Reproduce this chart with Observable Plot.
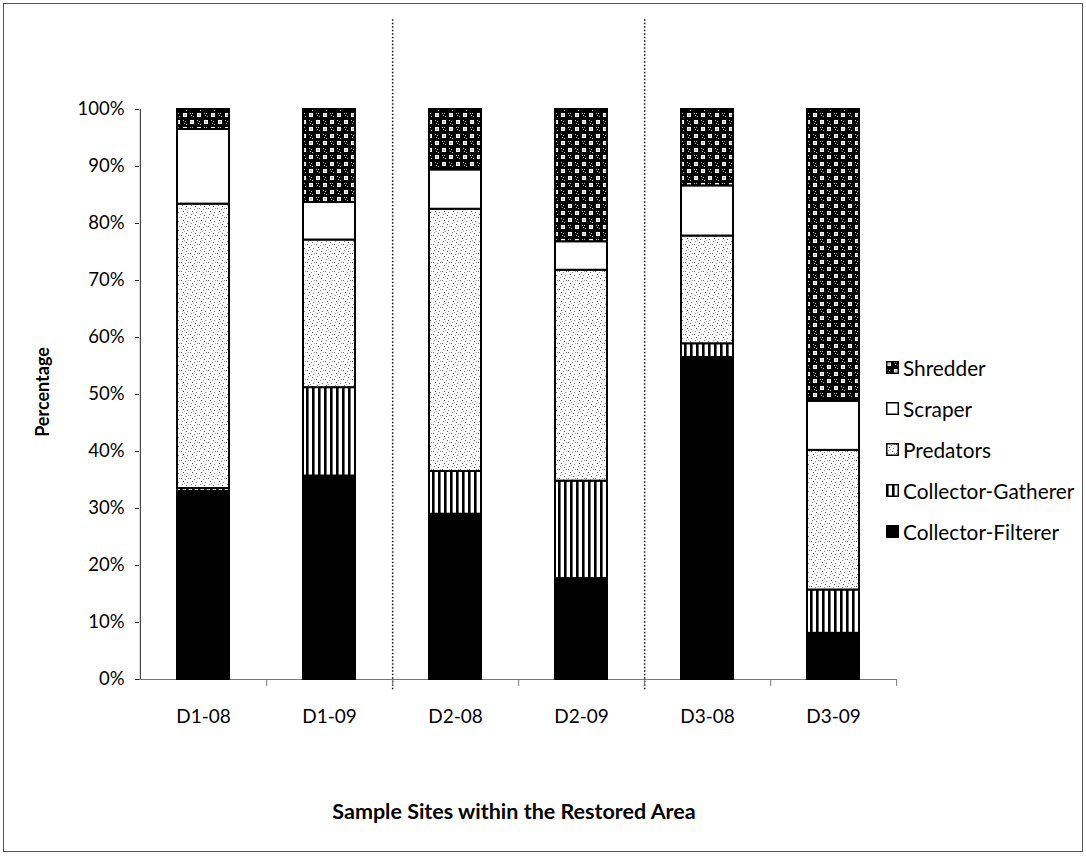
<!DOCTYPE html>
<html>
<head>
<meta charset="utf-8">
<script src="https://cdn.jsdelivr.net/npm/d3@7"></script>
<script src="https://cdn.jsdelivr.net/npm/@observablehq/plot@0.6"></script>
<style>
  body { margin: 0; background: #fff; font-family: Lato, "Open Sans", sans-serif; color: #000; }
  #chart { position: relative; width: 1086px; height: 857px; overflow: hidden; background: #fff; }
  #chart > svg.plot { position: absolute; left: 0; top: 0; }
  #border { position: absolute; left: 3px; top: 3px; width: 1080px; height: 849px; border: 1px solid #555; box-sizing: border-box; }
  #ytitle { position: absolute; left: 42px; top: 392px; transform: translate(-50%, -50%) rotate(-90deg); font-weight: bold; font-size: 18px; white-space: nowrap; }
  #xtitle { position: absolute; left: 514px; top: 811px; transform: translate(-50%, -50%); font-weight: bold; font-size: 21.5px; white-space: nowrap; }
  #legend { position: absolute; left: 886px; top: 347px; font-size: 20.8px; }
  #legend .item { display: flex; align-items: center; height: 41px; white-space: nowrap; }
  #legend .item svg { margin-right: 4px; flex: none; }
</style>
</head>
<body>
<!-- fill patterns shared by the bars and the legend swatches -->
<svg width="0" height="0" style="position:absolute">
  <defs>
    <pattern id="pat-cf" width="4" height="4" patternUnits="userSpaceOnUse">
      <rect width="4" height="4" fill="#000"/>
    </pattern>
    <pattern id="pat-cg" width="6" height="6" patternUnits="userSpaceOnUse">
      <rect width="6" height="6" fill="#fff"/>
      <rect x="0" y="0" width="2.6" height="6" fill="#000"/>
    </pattern>
    <pattern id="pat-pred" width="9" height="9" patternUnits="userSpaceOnUse">
      <rect width="9" height="9" fill="#fff"/>
      <rect x="1" y="1" width="1" height="1" fill="#666"/>
      <rect x="5" y="2" width="1" height="1" fill="#888"/>
      <rect x="3" y="4" width="1" height="1" fill="#444"/>
      <rect x="7" y="5" width="1" height="1" fill="#777"/>
      <rect x="2" y="7" width="1" height="1" fill="#888"/>
      <rect x="6" y="8" width="1" height="1" fill="#555"/>
      <rect x="8" y="1" width="1" height="1" fill="#999"/>
      <rect x="4" y="6" width="1" height="1" fill="#aaa"/>
    </pattern>
    <pattern id="pat-scr" width="4" height="4" patternUnits="userSpaceOnUse">
      <rect width="4" height="4" fill="#fff"/>
    </pattern>
    <pattern id="pat-shr" width="14" height="14" patternUnits="userSpaceOnUse">
      <rect width="14" height="14" fill="#000"/>
      <rect x="1" y="1" width="4" height="4" fill="#fff"/>
      <rect x="2.5" y="2.5" width="1" height="1" fill="#000"/>
      <rect x="8" y="8" width="4" height="4" fill="#fff"/>
      <rect x="9.5" y="9.5" width="1" height="1" fill="#000"/>
      <rect x="8" y="1" width="1" height="1" fill="#bbb"/>
      <rect x="10" y="1" width="1" height="1" fill="#bbb"/>
      <rect x="9" y="3" width="1" height="1" fill="#bbb"/>
      <rect x="11" y="4" width="1" height="1" fill="#bbb"/>
      <rect x="1" y="8" width="1" height="1" fill="#bbb"/>
      <rect x="3" y="9" width="1" height="1" fill="#bbb"/>
      <rect x="2" y="11" width="1" height="1" fill="#bbb"/>
      <rect x="4" y="12" width="1" height="1" fill="#bbb"/>
    </pattern>
  </defs>
</svg>

<div id="chart">
  <div id="border"></div>
  <div id="ytitle">Percentage</div>
  <div id="xtitle">Sample Sites within the Restored Area</div>
  <div id="legend"></div>
</div>

<script>
// Sample sites (x categories) and feeding groups (stacked bottom to top)
const sites = ["D1-08", "D1-09", "D2-08", "D2-09", "D3-08", "D3-09"];
const groups = ["Collector-Filterer", "Collector-Gatherer", "Predators", "Scraper", "Shredder"];

// Percent composition per site, one array per feeding group
const collectorFilterer = [33.0, 35.7, 29.0, 17.7, 56.5, 8.1];
const collectorGatherer = [0.5, 15.5, 7.5, 17.1, 2.4, 7.6];
const predators         = [49.9, 25.9, 46.0, 37.0, 18.9, 24.5];
const scraper           = [13.1, 6.6, 6.9, 5.0, 8.8, 8.6];
const shredder          = [3.5, 16.3, 10.6, 23.2, 13.4, 51.2];

// Y axis ticks
const yTicks = [0, 10, 20, 30, 40, 50, 60, 70, 80, 90, 100];

const series = [collectorFilterer, collectorGatherer, predators, scraper, shredder];
const patternOf = {
  "Collector-Filterer": "url(#pat-cf)",
  "Collector-Gatherer": "url(#pat-cg)",
  "Predators": "url(#pat-pred)",
  "Scraper": "url(#pat-scr)",
  "Shredder": "url(#pat-shr)"
};

const table = sites.flatMap((site, i) =>
  groups.map((group, j) => ({site, group, value: series[j][i]}))
);

const width = 1086, height = 857;
const marginLeft = 139, marginRight = 189, marginTop = 109, marginBottom = 178;
const step = (width - marginLeft - marginRight) / sites.length;

const chart = Plot.plot({
  width, height, marginLeft, marginRight, marginTop, marginBottom,
  style: {fontFamily: "Lato, 'Open Sans', sans-serif", background: "transparent", color: "#000"},
  x: {domain: sites, paddingInner: 0.59, paddingOuter: 0.295, axis: null},
  y: {domain: [0, 100], axis: null},
  color: {domain: groups, range: groups.map(g => patternOf[g])},
  marks: [
    // section dividers between the three reaches
    Plot.ruleX(["D1-09", "D2-09"], {x: d => d, dx: step / 2, y1: -1.8, y2: 116, stroke: "#111", strokeWidth: 1.5, strokeDasharray: "1.5 2"}),
    // x axis line and category boundary ticks
    Plot.ruleY([0], {stroke: "#777", strokeWidth: 1}),
    Plot.ruleX(sites, {x: d => d, dx: step / 2, y1: 0, y2: -1.2, stroke: "#777"}),
    // y axis line
    Plot.ruleX([sites[0]], {x: d => d, dx: -step / 2, y1: 0, y2: 100, stroke: "#222", strokeWidth: 1}),
    Plot.axisY({ticks: yTicks, tickFormat: d => d + "%", tickSize: 4, tickPadding: 11, fontSize: 18.5, label: null, stroke: "#222"}),
    Plot.axisX({tickSize: 0, tickPadding: 30, fontSize: 19, label: null}),
    Plot.barY(table, {x: "site", y: "value", fill: "group", order: null, stroke: "#000", strokeWidth: 2})
  ]
});
chart.classList.add("plot");
document.getElementById("chart").appendChild(chart);

// Legend, listed top to bottom in stack order
const legend = d3.select("#legend");
groups.slice().reverse().forEach(g => {
  const item = legend.append("div").attr("class", "item");
  const sw = item.append("svg").attr("width", 13).attr("height", 13);
  sw.append("rect").attr("x", 0.75).attr("y", 0.75).attr("width", 11.5).attr("height", 11.5)
    .attr("fill", patternOf[g]).attr("stroke", "#000").attr("stroke-width", 1.5);
  item.append("span").text(g);
});
</script>
</body>
</html>
